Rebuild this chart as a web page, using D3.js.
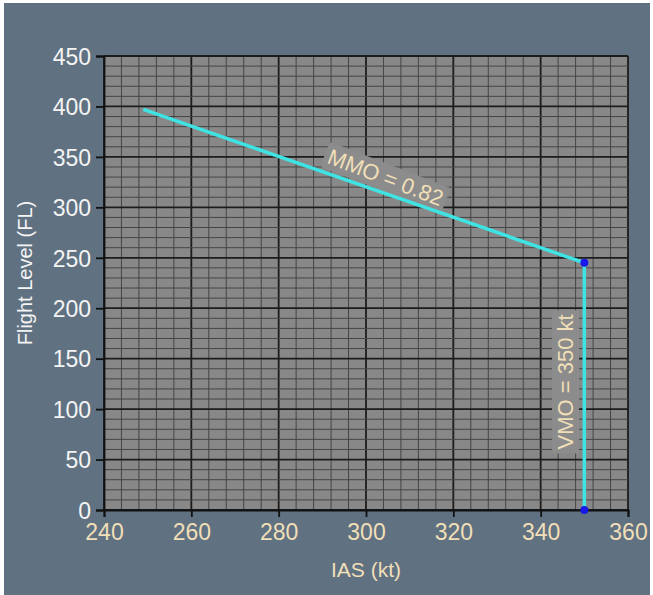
<!DOCTYPE html>
<html><head><meta charset="utf-8">
<script src="https://cdn.jsdelivr.net/npm/d3@7"></script>
<style>html,body{margin:0;padding:0;background:#fff;}svg{display:block;}</style>
</head><body>
<svg id="c" width="653" height="595"></svg>
<script>
// data
const iasValues = [249, 350, 350];
const flValues = [397, 245, 0];
const markerIas = [350, 350];
const markerFl = [245, 0];
const xTicks = [240, 260, 280, 300, 320, 340, 360];
const yTicks = [0, 50, 100, 150, 200, 250, 300, 350, 400, 450];
const mmoLabel = "MMO = 0.82";
const vmoLabel = "VMO = 350 kt";
const xTitle = "IAS (kt)";
const yTitle = "Flight Level (FL)";

const svg = d3.select("#c");
const W = 653, H = 595;
const m = {left: 104, right: 628, top: 56, bottom: 510};

svg.append("rect").attr("x", 4).attr("y", 3).attr("width", W - 7).attr("height", H - 3).attr("fill", "#607181");

const x = d3.scaleLinear().domain([240, 360]).range([m.left, m.right]);
const y = d3.scaleLinear().domain([0, 450]).range([m.bottom, m.top]);

svg.append("rect").attr("x", m.left).attr("y", m.top)
  .attr("width", m.right - m.left).attr("height", m.bottom - m.top).attr("fill", "#888888");

const g = svg.append("g");
const xMinor = d3.range(240, 361, 4);
const yMinor = d3.range(0, 451, 10);
g.selectAll(".vx").data(xMinor).join("line")
  .attr("x1", d => x(d)).attr("x2", d => x(d)).attr("y1", m.top).attr("y2", m.bottom)
  .attr("stroke", d => d % 20 === 0 ? "#1c1c1c" : "#454545").attr("stroke-width", d => d % 20 === 0 ? 1.8 : 1);
g.selectAll(".hy").data(yMinor).join("line")
  .attr("y1", d => y(d)).attr("y2", d => y(d)).attr("x1", m.left).attr("x2", m.right)
  .attr("stroke", d => d % 50 === 0 ? "#1c1c1c" : "#454545").attr("stroke-width", d => d % 50 === 0 ? 1.8 : 1);

const xAxis = d3.axisBottom(x).tickValues(xTicks).tickSize(7).tickPadding(7);
const yAxis = d3.axisLeft(y).tickValues(yTicks).tickSize(8).tickPadding(5);
const gx = svg.append("g").attr("transform", `translate(0,${m.bottom})`).call(xAxis);
const gy = svg.append("g").attr("transform", `translate(${m.left},0)`).call(yAxis);
[gx, gy].forEach(a => {
  a.select(".domain").attr("stroke", "#111").attr("stroke-width", 1.8);
  a.selectAll(".tick line").attr("stroke", "#111").attr("stroke-width", 1.8);
  a.selectAll(".tick text").attr("font-family", "Liberation Sans, Arial, sans-serif").attr("font-size", 23);
});
gx.selectAll(".tick text").attr("fill", "#f0dfb8");
gy.selectAll(".tick text").attr("fill", "#f4f4f4").attr("dy", "0.36em");

svg.append("text").attr("x", (m.left + m.right) / 2).attr("y", 577)
  .attr("text-anchor", "middle").attr("font-family", "Liberation Sans, Arial, sans-serif")
  .attr("font-size", 21).attr("fill", "#f0dfb8").text(xTitle);
svg.append("text").attr("transform", `translate(32,273) rotate(-90)`)
  .attr("text-anchor", "middle").attr("font-family", "Liberation Sans, Arial, sans-serif")
  .attr("font-size", 20).attr("fill", "#f4f4f4").text(yTitle);

function label(cx, cy, angle, text) {
  const lg = svg.append("g").attr("transform", `translate(${cx},${cy}) rotate(${angle})`);
  const t = lg.append("text").attr("text-anchor", "middle").attr("dy", "0.36em")
    .attr("font-family", "Liberation Sans, Arial, sans-serif").attr("font-size", 22)
    .attr("fill", "#f0dfb8").text(text);
  const bb = t.node().getBBox();
  lg.insert("rect", "text").attr("x", bb.x - 4).attr("y", bb.y - 1)
    .attr("width", bb.width + 8).attr("height", bb.height + 2).attr("rx", 3)
    .attr("fill", "#8c8c8c");
}

const line = d3.line().x((d, i) => x(iasValues[i])).y((d, i) => y(flValues[i]));
label(x(304.5), y(330), 21, mmoLabel);
label(x(345.6), y(127), -90, vmoLabel);

svg.append("path").datum(iasValues).attr("d", line).attr("fill", "none")
  .attr("stroke", "#3fe3e3").attr("stroke-width", 3.5);

svg.selectAll(".dot").data(markerIas).join("circle")
  .attr("cx", d => x(d)).attr("cy", (d, i) => y(markerFl[i])).attr("r", 4)
  .attr("fill", "#1818e8");
</script>
</body></html>
